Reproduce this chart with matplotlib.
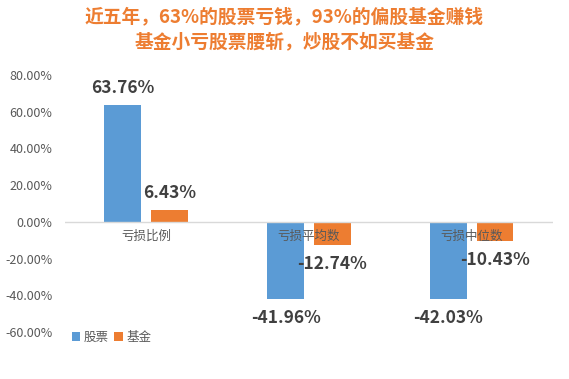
import matplotlib
matplotlib.use("Agg")
import matplotlib.pyplot as plt
import numpy as np

plt.rcParams['font.family'] = ['Noto Sans CJK SC', 'DejaVu Sans']

CATEGORIES = ["亏损比例", "亏损平均数", "亏损中位数"]
STOCK = [63.76, -41.96, -42.03]
FUND = [6.43, -12.74, -10.43]
SERIES_NAMES = ["股票", "基金"]
Y_TICKS = [-60, -40, -20, 0, 20, 40, 60, 80]

BLUE = "#5B9BD5"
ORANGE = "#ED7D31"
GRAY = "#595959"


def main():
    fig = plt.figure(figsize=(5.69, 3.79), dpi=100)
    ax = fig.add_axes([0.114, 0.124, 0.858, 0.678])

    x = np.arange(len(CATEGORIES))
    width = 0.227
    off = 0.143
    b1 = ax.bar(x - off, STOCK, width, color=BLUE, label=SERIES_NAMES[0], zorder=2)
    b2 = ax.bar(x + off, FUND, width, color=ORANGE, label=SERIES_NAMES[1], zorder=2)

    # value labels
    for bars, vals in ((b1, STOCK), (b2, FUND)):
        for rect, v in zip(bars, vals):
            cx = rect.get_x() + rect.get_width() / 2
            if v >= 0:
                ax.annotate(f"{v:.2f}%", (cx, v), xytext=(0, 6), textcoords="offset points",
                            ha="center", va="bottom", fontsize=12.5, fontweight="bold",
                            color="#404040", zorder=5)
            else:
                ax.annotate(f"{v:.2f}%", (cx, v), xytext=(0, -7), textcoords="offset points",
                            ha="center", va="top", fontsize=12.5, fontweight="bold",
                            color="#404040", zorder=5)

    # category labels sit just under the zero line
    for xi, name in zip(x, CATEGORIES):
        ax.annotate(name, (xi, 0), xytext=(0, -6), textcoords="offset points",
                    ha="center", va="top", fontsize=9, color=GRAY, zorder=5)

    ax.axhline(0, color="#D9D9D9", lw=1, zorder=3)
    ax.set_xlim(-0.5, 2.5)
    ax.set_ylim(-60, 80)
    ax.set_yticks(Y_TICKS)
    ax.set_yticklabels([f"{t:.2f}%" for t in Y_TICKS], fontsize=9, color=GRAY)
    ax.set_xticks([])
    ax.tick_params(axis="y", length=0, pad=9)
    for s in ax.spines.values():
        s.set_visible(False)

    fig.text(0.5, 0.955, "近五年，63%的股票亏钱，93%的偏股基金赚钱", ha="center", va="center",
             fontsize=13.5, fontweight="bold", color=ORANGE)
    fig.text(0.5, 0.89, "基金小亏股票腰斩，炒股不如买基金", ha="center", va="center",
             fontsize=13.5, fontweight="bold", color=ORANGE)

    fig.legend(handles=[b1, b2], labels=SERIES_NAMES, loc="center left",
               bbox_to_anchor=(0.106, 0.11), ncol=2, frameon=False, fontsize=9,
               handlelength=0.7, handleheight=0.7, handletextpad=0.3, columnspacing=0.4,
               labelcolor=GRAY)

    fig.savefig("out.png", dpi=100, facecolor="white")
    plt.close(fig)


if __name__ == "__main__":
    main()
